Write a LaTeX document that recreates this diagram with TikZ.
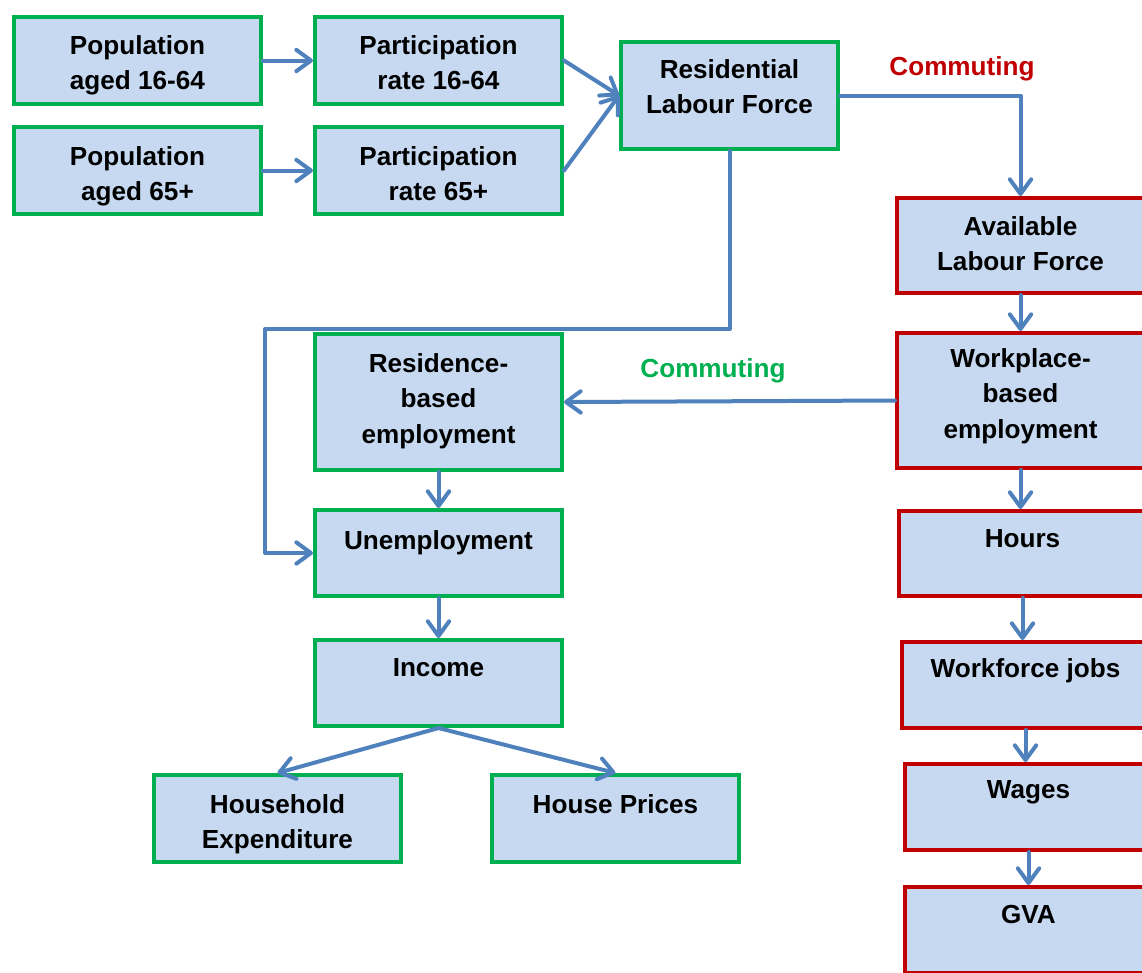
\documentclass[tikz,border=0pt]{standalone}
\usepackage{fontspec}
\setmainfont{Liberation Sans}
\usetikzlibrary{arrows.meta,calc}
\definecolor{boxfill}{HTML}{C6D9F1}
\definecolor{gbord}{HTML}{00B050}
\definecolor{rbord}{HTML}{C00000}
\definecolor{arr}{HTML}{4F81BD}
\begin{document}
\begin{tikzpicture}[x=0.75pt,y=-0.75pt,
  box/.style={draw, fill=boxfill, line width=3pt, rectangle, inner sep=0pt},
  gbox/.style={box, draw=gbord},
  rbox/.style={box, draw=rbord},
  sz/.style 2 args={minimum width=#1*0.75pt, minimum height=#2*0.75pt},
  txt/.style={align=center, anchor=north, inner sep=0pt,
    font=\bfseries\fontsize{19.6}{26.6}\selectfont},
  conn/.style={draw=arr, line width=3pt, line cap=round, line join=round,
    -{Straight Barb[length=11pt,width=16pt,line cap=round,line join=round]}}
]
\useasboundingbox (0,0) rectangle (1142,972);
\begin{scope}
\clip (0,0) rectangle (1142,972);
% left / top green boxes
\node[gbox, sz={247}{87}] (pop1) at (137.5,60.5) {};
\node[gbox, sz={247}{87}] (part1) at (438.5,60.5) {};
\node[gbox, sz={247}{87}] (pop2) at (137.5,170.5) {};
\node[gbox, sz={247}{87}] (part2) at (438.5,170.5) {};
\node[gbox, sz={217}{107}] (rlf) at (729.5,95.5) {};
\node[gbox, sz={247}{136}] (rbe) at (438.5,402) {};
\node[gbox, sz={247}{86}] (unemp) at (438.5,553) {};
\node[gbox, sz={247}{86}] (income) at (438.5,683) {};
\node[gbox, sz={247}{87}] (he) at (277.5,818.5) {};
\node[gbox, sz={247}{87}] (hp) at (615.5,818.5) {};
% right red boxes
\node[rbox, sz={247}{95}] (alf) at (1020.5,245.5) {};
\node[rbox, sz={247}{135}] (wbe) at (1020.5,400.5) {};
\node[rbox, sz={247}{85}] (hours) at (1022.5,553.5) {};
\node[rbox, sz={247}{86}] (wj) at (1025.5,685) {};
\node[rbox, sz={247}{86}] (wages) at (1028.5,807) {};
\node[rbox, sz={247}{86}] (gva) at (1028.5,930) {};
% box texts
\node[txt] (pop1-t) at (pop1 |- 0,35) {Population\\aged 16-64};
\node[txt] (part1-t) at (part1 |- 0,35) {Participation\\rate 16-64};
\node[txt] (pop2-t) at (pop2 |- 0,146) {Population\\aged 65+};
\node[txt] (part2-t) at (part2 |- 0,146) {Participation\\rate 65+};
\node[txt] (rlf-t) at (rlf |- 0,59) {Residential\\Labour Force};
\node[txt] (rbe-t) at (rbe |- 0,353) {Residence-\\based\\employment};
\node[txt] (unemp-t) at (unemp |- 0,530) {Unemployment};
\node[txt] (income-t) at (income |- 0,658) {Income};
\node[txt] (he-t) at (he |- 0,794) {Household\\Expenditure};
\node[txt] (hp-t) at (hp |- 0,794) {House Prices};
\node[txt] (alf-t) at (alf |- 0,216) {Available\\Labour Force};
\node[txt] (wbe-t) at (wbe |- 0,348) {Workplace-\\based\\employment};
\node[txt] (hours-t) at (hours |- 0,529) {Hours};
\node[txt] (wj-t) at (wj |- 0,658) {Workforce jobs};
\node[txt] (wages-t) at (wages |- 0,780) {Wages};
\node[txt] (gva-t) at (gva |- 0,905) {GVA};
% labels
\node[txt, text=rbord] (com1) at (962,56) {Commuting};
\node[txt, text=gbord] (com2) at (713,358) {Commuting};
% connectors
\coordinate (bendL) at (265,329);
\draw[conn] (pop1.east) -- (part1.west);
\draw[conn] (pop2.east) -- (part2.west);
\draw[conn] (part1.east) -- (rlf.west);
\draw[conn] (part2.east) -- (rlf.west);
\draw[conn] (rlf.east) -| (alf.north);
\draw[conn] (alf.south) -- (wbe.north);
\draw[conn] (rlf.south) |- (bendL) |- (unemp.west);
\draw[conn] (wbe.west) -- (rbe.east);
\draw[conn] (rbe.south) -- (unemp.north);
\draw[conn] (unemp.south) -- (income.north);
\draw[conn] (income.south) -- (he.north);
\draw[conn] (income.south) -- (hp.north);
\draw[conn] (wbe.south) -- (wbe.south |- hours.north);
\draw[conn] (hours.south) -- (hours.south |- wj.north);
\draw[conn] (wj.south) -- (wj.south |- wages.north);
\draw[conn] (wages.south) -- (wages.south |- gva.north);
\end{scope}
\end{tikzpicture}
\end{document}
